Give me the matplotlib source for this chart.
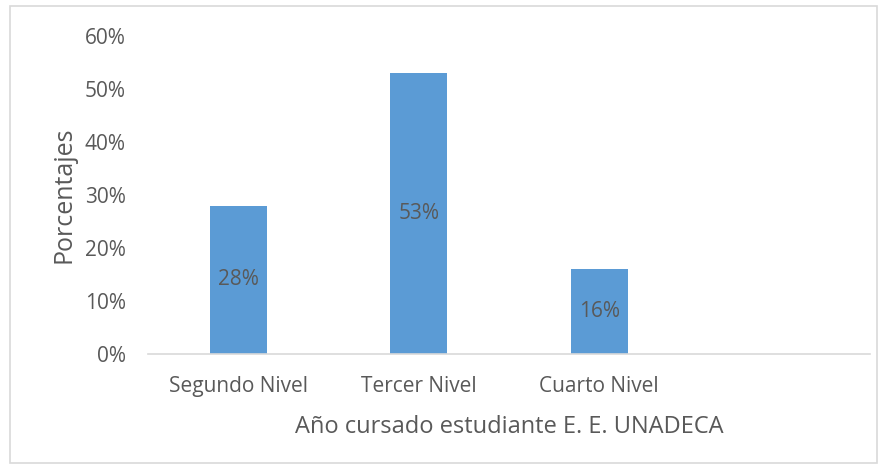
import matplotlib.pyplot as plt
from matplotlib.patches import Rectangle
from matplotlib.ticker import PercentFormatter

plt.rcParams['font.family'] = ['Open Sans', 'DejaVu Sans']

# Datos: porcentaje de estudiantes por nivel (la cuarta categoría queda vacía)
niveles = ['Segundo Nivel', 'Tercer Nivel', 'Cuarto Nivel', '']
porcentajes = [28, 53, 16]
etiquetas = ['28%', '53%', '16%']

gris = '#595959'
azul = '#5B9BD5'

fig = plt.figure(figsize=(8.87, 4.68), dpi=100)
ax = fig.add_axes([0.1669, 0.2436, 0.8139, 0.6795])

x = list(range(len(niveles)))
barras = ax.bar(x[:len(porcentajes)], porcentajes, width=0.316, color=azul)
for b, txt in zip(barras, etiquetas):
    ax.text(b.get_x() + b.get_width() / 2, b.get_height() / 2, txt,
            ha='center', va='center', fontsize=15, color=gris)

ax.set_xlim(-0.5, len(niveles) - 0.5)
ax.set_ylim(0, 60)
ax.set_yticks(range(0, 61, 10))
ax.yaxis.set_major_formatter(PercentFormatter(decimals=0))
ax.set_xticks(x)
ax.set_xticklabels(niveles)
ax.tick_params(axis='both', length=0, labelsize=15, colors=gris)
ax.tick_params(axis='x', pad=16)
ax.tick_params(axis='y', pad=16)

for s in ['top', 'right', 'left']:
    ax.spines[s].set_visible(False)
ax.spines['bottom'].set_color('#D9D9D9')
ax.spines['bottom'].set_linewidth(1.2)

ax.set_xlabel('Año cursado estudiante E. E. UNADECA', fontsize=17, color=gris, labelpad=13)
ax.set_ylabel('Porcentajes', fontsize=18, color=gris, labelpad=6)

# marco del gráfico
fig.patches.append(Rectangle((10 / 887, 5 / 468), 867 / 887, 457 / 468,
                             transform=fig.transFigure, fill=False,
                             edgecolor='#D9D9D9', linewidth=1.2))

fig.savefig('out.png', dpi=100)
